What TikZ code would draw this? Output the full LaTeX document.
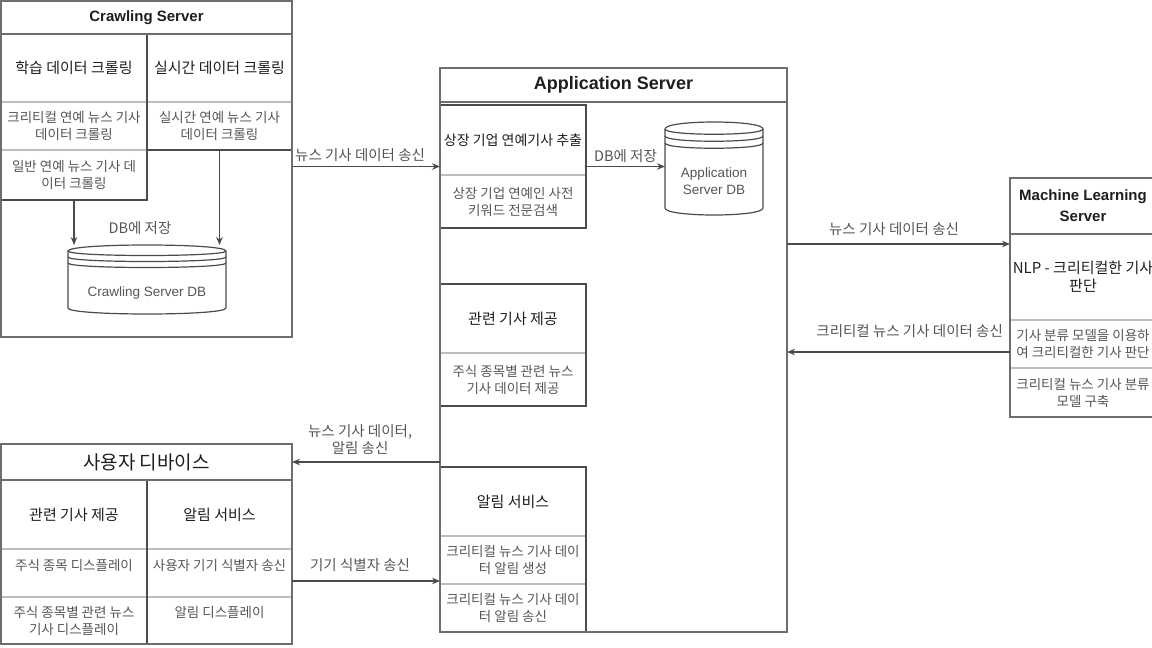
\documentclass[tikz,border=0pt]{standalone}
\usepackage{fontspec}
\setmainfont{Liberation Sans}
\newfontfamily\kr{Noto Sans CJK KR}
\usetikzlibrary{arrows.meta,calc}
\definecolor{LineMid}{RGB}{110,110,110}
\definecolor{LineDark}{RGB}{75,75,75}
\definecolor{LineLight}{RGB}{190,190,190}
\definecolor{TextDark}{RGB}{30,30,30}
\definecolor{TextGray}{RGB}{85,85,85}
\newcommand\rowfont{\kr\fontsize{13.5}{17}\selectfont}
\newcommand\headfont{\kr\fontsize{15}{18}\selectfont}
\newcommand\lblfont{\kr\fontsize{14.5}{17}\selectfont}
\tikzset{
  sz/.style 2 args ={minimum width=#1, minimum height=#2},
  cell/.style      ={rectangle, draw=LineLight, line width=1.2pt, anchor=north west,
                     inner sep=1pt, outer sep=0pt, align=center, text=TextGray, font=\rowfont},
  headcell/.style  ={cell, text=TextDark, font=\headfont},
  upper/.style     ={text height=12pt, text depth=18pt},
  colbox/.style    ={rectangle, draw=LineDark, line width=1.3pt, anchor=north west,
                     inner sep=0pt, outer sep=0pt},
  frameline/.style ={colbox, draw=LineMid, line width=1.5pt},
  titlecell/.style ={frameline, text=TextDark, align=center,
                     font=\fontsize{15}{21}\selectfont\bfseries},
  dbnode/.style    ={rectangle, anchor=north west, inner sep=0pt, outer sep=0pt},
  dbtext/.style    ={text=TextGray, align=center, font=\fontsize{13.5}{17}\selectfont},
  lbl/.style       ={text=TextGray, font=\lblfont, align=center, inner sep=1pt},
  arr/.style       ={-{Stealth[length=8pt,width=6.5pt]}, draw=LineDark, line width=1.3pt},
  dbline/.style    ={draw=LineDark, line width=1.2pt},
}
% drawio-like data store: node name, curve depth
\newcommand\datastore[2]{%
  \draw[dbline] ($(#1.north west)+(0,#2)$)
      .. controls ($(#1.north west)+(0,-#2/3)$) and ($(#1.north east)+(0,-#2/3)$) .. ($(#1.north east)+(0,#2)$)
      -- ($(#1.south east)+(0,-#2)$)
      .. controls ($(#1.south east)+(0,#2/3)$) and ($(#1.south west)+(0,#2/3)$) .. ($(#1.south west)+(0,-#2)$)
      -- cycle;
  \foreach \k in {1,2,3}{
    \draw[dbline] ($(#1.north west)+(0,\k*#2)$)
      .. controls ($(#1.north west)+(0,\k*#2+#2)$) and ($(#1.north east)+(0,\k*#2+#2)$) .. ($(#1.north east)+(0,\k*#2)$);
  }%
}

\begin{document}
\begin{tikzpicture}[x=1pt,y=-1pt]
  \useasboundingbox (0,0) rectangle (1152,648);
  \clip (0,0) rectangle (1152,648);

  % Crawling Server
  \node[headcell,sz={146}{68}] (cl1) at (1,34)   {학습 데이터 크롤링};
  \node[cell,sz={146}{48}]     (cl2) at (1,102)  {크리티컬 연예 뉴스 기사\\데이터 크롤링};
  \node[cell,sz={146}{50}]     (cl3) at (1,150)  {일반 연예 뉴스 기사 데\\이터 크롤링};
  \node[headcell,sz={145}{68}] (cr1) at (147,34) {실시간 데이터 크롤링};
  \node[cell,sz={145}{48}]     (cr2) at (147,102){실시간 연예 뉴스 기사\\데이터 크롤링};
  \node[colbox,sz={146}{166}]  (crawlL) at (1,34) {};
  \node[colbox,sz={145}{116}]  (crawlR) at (147,34) {};
  \node[titlecell,sz={291}{33}] (crawltitle) at (1,1) {Crawling Server};
  \node[frameline,sz={291}{336}] (crawl) at (1,1) {};
  \node[dbnode,sz={158}{69}]   (crawldb) at (68,245) {};
  \datastore{crawldb}{6}
  \node[dbtext] (crawldbtxt) at (147,293) {Crawling Server DB};
  \node[lbl] (savecrawl) at (140,228) {DB에 저장};
  \draw[arr] (crawlL.south) -- (crawlL.south |- crawldb.north);
  \draw[arr] (crawlR.south) -- (crawlR.south |- crawldb.north);

  % Application Server
  \node[headcell,sz={146}{70},font=\kr\fontsize{14}{18}\selectfont] (ex1) at (440,105) {상장 기업 연예기사 추출};
  \node[cell,sz={146}{53}]     (ex2) at (440,175) {상장 기업 연예인 사전\\키워드 전문검색};
  \node[colbox,sz={146}{123}]  (ext) at (440,105) {};
  \node[headcell,sz={146}{69}] (re1) at (440,284) {관련 기사 제공};
  \node[cell,sz={146}{53}]     (re2) at (440,353) {주식 종목별 관련 뉴스\\기사 데이터 제공};
  \node[colbox,sz={146}{122}]  (rel) at (440,284) {};
  \node[headcell,sz={146}{69}] (al1) at (440,467) {알림 서비스};
  \node[cell,sz={146}{48}]     (al2) at (440,536) {크리티컬 뉴스 기사 데이\\터 알림 생성};
  \node[cell,sz={146}{48}]     (al3) at (440,584) {크리티컬 뉴스 기사 데이\\터 알림 송신};
  \node[colbox,sz={146}{165}]  (alarm) at (440,467) {};
  \node[titlecell,sz={347}{34},font=\fontsize{18}{22}\selectfont\bfseries] (apptitle) at (440,68) {Application Server};
  \node[frameline,sz={347}{564}] (app) at (440,68) {};
  \node[dbnode,sz={98}{93}]    (appdb) at (665,122) {};
  \datastore{appdb}{7}
  \node[dbtext] (appdbtxt) at (714,181.5) {Application\\Server DB};
  \draw[arr] (ext.east) -- (ext.east -| appdb.west) node[lbl,midway,above=2pt] (saveapp) {DB에 저장};

  % Machine Learning Server
  \node[headcell,sz={146}{86}] (ml1) at (1010,234) {NLP - 크리티컬한 기사\\판단};
  \node[cell,sz={146}{48}]     (ml2) at (1010,320) {기사 분류 모델을 이용하\\여 크리티컬한 기사 판단};
  \node[cell,sz={146}{49}]     (ml3) at (1010,368) {크리티컬 뉴스 기사 분류\\모델 구축};
  \node[titlecell,sz={146}{56}] (mltitle) at (1010,178) {Machine Learning\\Server};
  \node[frameline,sz={146}{239}] (ml) at (1010,178) {};

  % 사용자 디바이스
  \node[headcell,sz={146}{69}]   (ul1) at (1,480)   {관련 기사 제공};
  \node[cell,upper,sz={146}{48}] (ul2) at (1,549)   {주식 종목 디스플레이};
  \node[cell,sz={146}{47}]       (ul3) at (1,597)   {주식 종목별 관련 뉴스\\기사 디스플레이};
  \node[headcell,sz={145}{69}]   (ur1) at (147,480) {알림 서비스};
  \node[cell,upper,sz={145}{48}] (ur2) at (147,549) {사용자 기기 식별자 송신};
  \node[cell,upper,sz={145}{47}] (ur3) at (147,597) {알림 디스플레이};
  \node[colbox,sz={146}{164}]    (udL) at (1,480) {};
  \node[colbox,sz={145}{164}]    (udR) at (147,480) {};
  \node[titlecell,sz={291}{36},font=\kr\fontsize{19}{22}\selectfont] (udtitle) at (1,444) {사용자 디바이스};
  \node[frameline,sz={291}{200}] (udev) at (1,444) {};

  % connectors between servers
  \coordinate (mlin)  at (0,244);
  \coordinate (mlout) at (0,352);
  \coordinate (uid)   at (0,581);
  \draw[arr] (crawl.east |- ext.west) -- (ext.west)
    node[lbl,pos=0.46,above=3pt] (newsc) {뉴스 기사 데이터 송신};
  \draw[arr] (app.east |- mlin) -- (ml.west |- mlin)
    node[lbl,pos=0.48,above=7pt] (newsml) {뉴스 기사 데이터 송신};
  \draw[arr] (ml.west |- mlout) -- (app.east |- mlout)
    node[lbl,pos=0.45,above=13pt] (critml) {크리티컬 뉴스 기사 데이터 송신};
  \draw[arr] (app.west |- udtitle.east) -- (udtitle.east)
    node[lbl,pos=0.54,above=6pt] (newsud) {뉴스 기사 데이터,\\알림 송신};
  \draw[arr] (udev.east |- uid) -- (app.west |- uid)
    node[lbl,pos=0.46,above=8pt] (idud) {기기 식별자 송신};
\end{tikzpicture}
\end{document}
